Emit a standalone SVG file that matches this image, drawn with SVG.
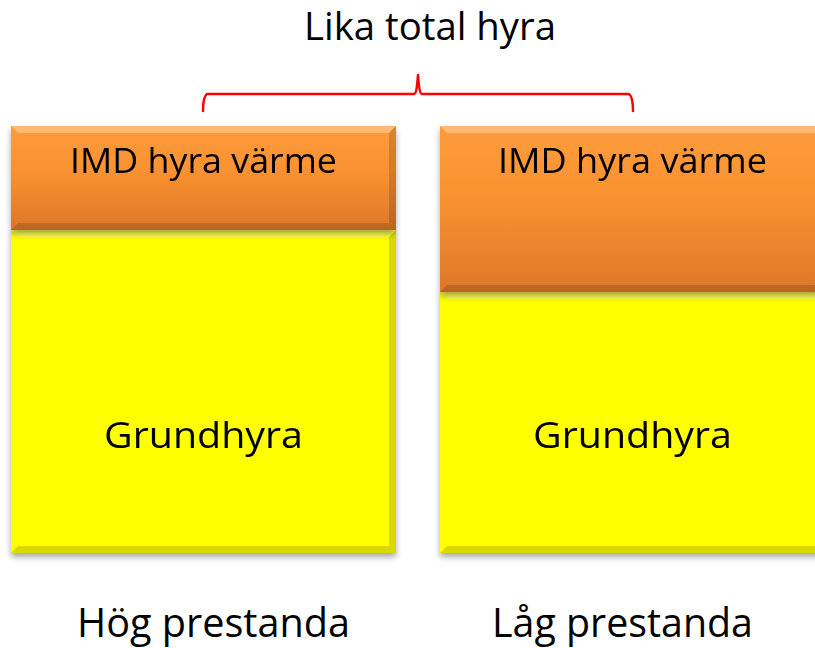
<svg xmlns="http://www.w3.org/2000/svg" width="815" height="648" viewBox="0 0 815 648">
<defs>
<linearGradient id="org" x1="0" y1="0" x2="0" y2="1">
<stop offset="0" stop-color="#FD9C3C"/>
<stop offset="0.45" stop-color="#F99130"/>
<stop offset="1" stop-color="#DD772A"/>
</linearGradient>
<filter id="sh" x="-5%" y="-5%" width="110%" height="115%">
<feGaussianBlur in="SourceAlpha" stdDeviation="3"/>
<feOffset dy="4" result="b"/>
<feComponentTransfer><feFuncA type="linear" slope="0.35"/></feComponentTransfer>
<feMerge><feMergeNode/><feMergeNode in="SourceGraphic"/></feMerge>
</filter>
</defs>
<style>
.t{font-family:"Open Sans","Liberation Sans",sans-serif;fill:#000;text-anchor:middle}
.hl{fill:#fff;opacity:0.3}
.dk{fill:#000;opacity:0.15}
.brace{fill:none;stroke:#FF0000;stroke-width:2.5;stroke-linejoin:round;stroke-linecap:round}
</style>
<text class="t" x="430" y="40" font-size="38" textLength="252" lengthAdjust="spacingAndGlyphs">Lika total hyra</text>
<g id="connectors">
<path class="brace" d="M203,111 C203,104 204,96 207,94 L414,94 C416,94 417,88 418,75 C419,88 420,94 422,94 L629,94 C632,96 633,104 633,111"/>
</g>
<g id="left-grund" filter="url(#sh)">
<rect x="11" y="230" width="385" height="323" fill="#FFFF00"/>
<polygon class="hl" points="11,230 396,230 389,237 18,237"/>
<polygon class="dk" points="11,553 396,553 389,546 18,546"/>
<polygon class="dk" points="396,230 396,553 389,546 389,237" opacity="0.08"/>
<text class="t" x="203.5" y="448" font-size="36" textLength="199" lengthAdjust="spacingAndGlyphs">Grundhyra</text>
</g>
<g id="left-imd" filter="url(#sh)">
<rect x="11" y="126" width="385" height="104" fill="url(#org)"/>
<polygon class="hl" points="11,126 396,126 389,133 18,133"/>
<polygon class="dk" points="11,230 396,230 389,223 18,223"/>
<polygon class="dk" points="396,126 396,230 389,223 389,133" opacity="0.08"/>
<text class="t" x="203.5" y="173" font-size="34" textLength="267" lengthAdjust="spacingAndGlyphs">IMD hyra värme</text>
</g>
<g id="right-grund" filter="url(#sh)">
<rect x="440" y="292" width="385" height="261" fill="#FFFF00"/>
<polygon class="hl" points="440,292 825,292 818,299 447,299"/>
<polygon class="dk" points="440,553 825,553 818,546 447,546"/>
<text class="t" x="632.5" y="448" font-size="36" textLength="199" lengthAdjust="spacingAndGlyphs">Grundhyra</text>
</g>
<g id="right-imd" filter="url(#sh)">
<rect x="440" y="126" width="385" height="166" fill="url(#org)"/>
<polygon class="hl" points="440,126 825,126 818,133 447,133"/>
<polygon class="dk" points="440,292 825,292 818,285 447,285"/>
<text class="t" x="632.5" y="173" font-size="34" textLength="269" lengthAdjust="spacingAndGlyphs">IMD hyra värme</text>
</g>
<text class="t" x="213.5" y="637" font-size="40" textLength="273" lengthAdjust="spacingAndGlyphs">Hög prestanda</text>
<text class="t" x="622.5" y="637" font-size="40" textLength="261" lengthAdjust="spacingAndGlyphs">Låg prestanda</text>
</svg>
